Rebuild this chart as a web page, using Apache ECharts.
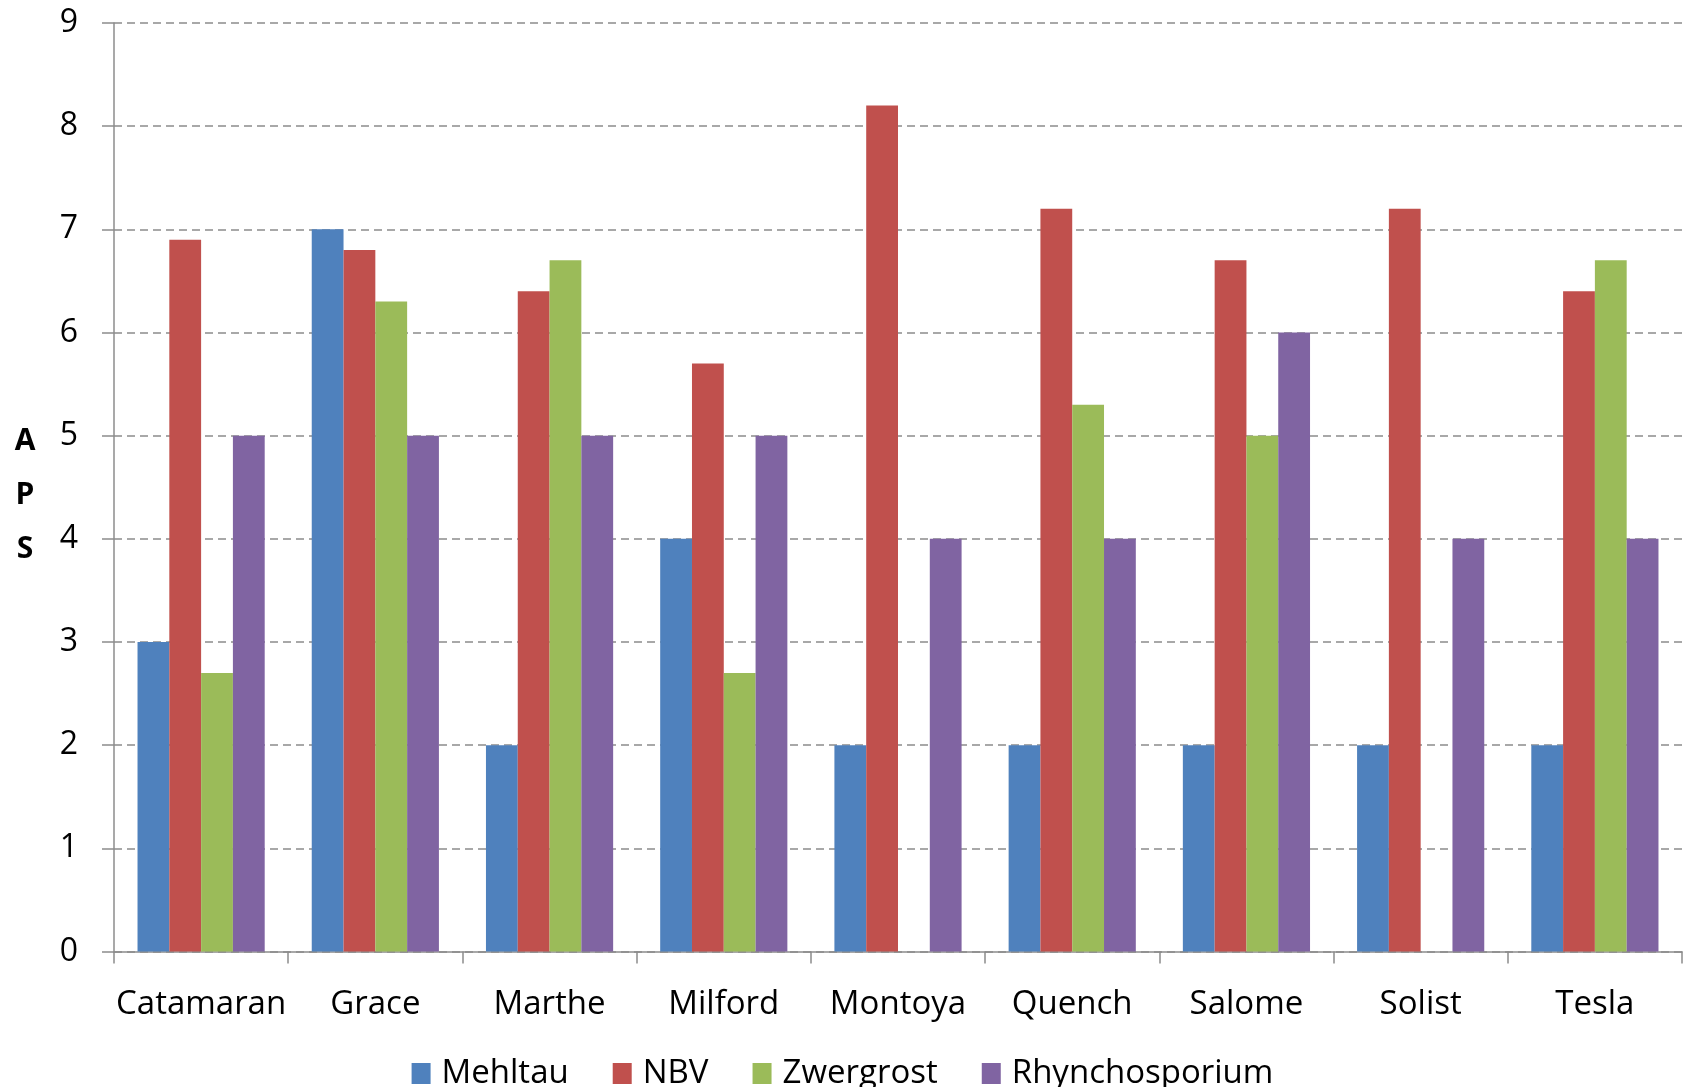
<!DOCTYPE html>
<html>
<head>
<meta charset="utf-8">
<script src="https://cdn.jsdelivr.net/npm/echarts@6/dist/echarts.min.js"></script>
<style>html,body{margin:0;padding:0;background:#fff;}#c{width:1685px;height:1087px;}</style>
</head>
<body>
<div id="c"></div>
<script>
const categories = ['Catamaran','Grace','Marthe','Milford','Montoya','Quench','Salome','Solist','Tesla'];
const mehltau = [3, 7, 2, 4, 2, 2, 2, 2, 2];
const nbv = [6.9, 6.8, 6.4, 5.7, 8.2, 7.2, 6.7, 7.2, 6.4];
const zwergrost = [2.7, 6.3, 6.7, 2.7, null, 5.3, 5, null, 6.7];
const rhynchosporium = [5, 5, 5, 5, 4, 4, 6, 4, 4];
const seriesNames = ['Mehltau','NBV','Zwergrost','Rhynchosporium'];
const colors = ['#4F81BD','#C0504D','#9BBB59','#8064A2'];
const font = '"Open Sans", "Noto Sans", sans-serif';

const chart = echarts.init(document.getElementById('c'), null, {renderer:'canvas'});
const dataSets = [mehltau, nbv, zwergrost, rhynchosporium];
chart.setOption({
  animation: false,
  color: colors,
  grid: {left: 114, right: 3, top: 23, bottom: 135.5},
  legend: {
    data: seriesNames,
    left: 'center', top: 1052,
    itemWidth: 19, itemHeight: 21, itemGap: 44,
    icon: 'rect',
    textStyle: {fontFamily: font, fontSize: 33, color: '#000', padding: [0,0,0,6]}
  },
  xAxis: {
    type: 'category', data: categories,
    axisLine: {lineStyle: {color: '#8c8c8c', width: 1.5}},
    axisTick: {show: true, length: 12, lineStyle: {color: '#8c8c8c', width: 1.5}},
    axisLabel: {interval: 0, fontFamily: font, fontSize: 33, color: '#000', margin: 37, lineHeight: 33}
  },
  yAxis: {
    type: 'value', min: 0, max: 9, interval: 1,
    name: '{s| }\n{b|A}\n{b|P}\n{b|S}', nameLocation: 'middle', nameRotate: 0, nameGap: 89,
    nameTextStyle: {
      fontFamily: font, fontSize: 30, fontWeight: 'bold', color: '#000', align: 'center', verticalAlign: 'middle',
      rich: {
        s: {fontSize: 10, lineHeight: 17, fontFamily: font},
        b: {fontFamily: font, fontSize: 30, fontWeight: 'bold', color: '#000', lineHeight: 54}
      }
    },
    axisLine: {show: true, lineStyle: {color: '#8c8c8c', width: 1.5}},
    axisTick: {show: true, length: 12, lineStyle: {color: '#8c8c8c', width: 1.5}},
    axisLabel: {fontFamily: font, fontSize: 32, color: '#000', margin: 36},
    splitLine: {show: true, lineStyle: {color: '#8c8c8c', width: 1.5, type: [8, 5]}}
  },
  series: seriesNames.map((n, i) => ({
    name: n, type: 'bar', data: dataSets[i],
    barGap: '0%', barCategoryGap: '27%',
    itemStyle: {color: colors[i]}
  }))
});
</script>
</body>
</html>
